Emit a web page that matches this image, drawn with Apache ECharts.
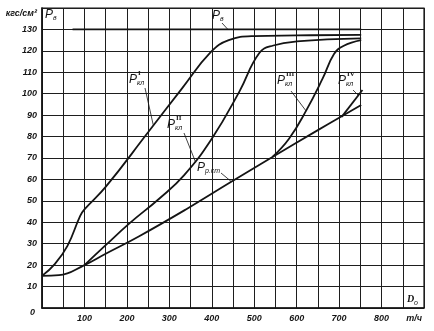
<!DOCTYPE html>
<html>
<head>
<meta charset="utf-8">
<script src="https://cdn.jsdelivr.net/npm/echarts@6/dist/echarts.min.js"></script>
<style>
  html, body { margin: 0; padding: 0; background: #fff; }
  #chart { width: 434px; height: 331px; }
</style>
</head>
<body>
<div id="chart"></div>
<script>
// Feed-water flow D0 (t/h) on x, pressure (kgf/cm2) on y
const pvX = [72, 752];
const pvY = [130, 130];

const kl1X = [0, 30, 60, 90, 100, 150, 250, 330, 398, 440, 500, 600, 752];
const kl1Y = [15, 20.5, 29, 43, 46, 56.5, 82, 102.5, 119.5, 125, 126.9, 127.2, 127.5];

const kl2X = [100, 150, 206, 276, 335, 400, 465, 512, 545, 600, 752];
const kl2Y = [20, 29.3, 39.5, 51, 62, 79, 101, 119, 122.5, 124.4, 125.8];

const kl3X = [543, 582, 622, 661, 688, 710, 752];
const kl3Y = [70.5, 79, 92, 107, 118.5, 122.3, 125];

const kl4X = [706, 755];
const kl4Y = [89.2, 101.7];

const rstX = [0, 40, 100, 150, 229, 339, 441, 543, 650, 752];
const rstY = [15, 15.3, 20, 25.3, 33.5, 46, 58.3, 70.5, 83, 94.7];

const xTickLabels = { 100: '100', 200: '200', 300: '300', 400: '400', 500: '500', 600: '600', 700: '700', 800: '800', 900: '{t|т/ч}' };

const ink = '#141414';
const numFont = { fontFamily: 'Liberation Sans', fontStyle: 'italic', fontWeight: 'bold', fontSize: 9, color: ink };

function zip(xs, ys) { return xs.map((x, i) => [x, ys[i]]); }

function curve(name, xs, ys, smooth) {
  return {
    name: name, type: 'line', data: zip(xs, ys),
    showSymbol: false, smooth: smooth,
    lineStyle: { color: ink, width: 1.8 }, silent: true, animation: false
  };
}

const chart = echarts.init(document.getElementById('chart'), null, { renderer: 'canvas' });

chart.setOption({
  backgroundColor: '#fff',
  animation: false,
  grid: { left: 42, right: 10, top: 8, bottom: 23, show: true, borderColor: ink, borderWidth: 1.2, backgroundColor: 'transparent' },
  xAxis: {
    type: 'value', min: 0, max: 900, interval: 50,
    axisLine: { show: true, onZero: false, lineStyle: { color: ink, width: 1.6 } },
    axisTick: { show: false },
    splitLine: { show: true, lineStyle: { color: '#1e1e1e', width: 1 } },
    axisLabel: Object.assign({ margin: 6, showMinLabel: true, showMaxLabel: true,
      formatter: v => xTickLabels[v] || '',
      rich: {
        t: { fontFamily: 'Liberation Sans', fontStyle: 'italic', fontWeight: 'bold', fontSize: 9, color: ink, padding: [0, 20, 0, 0] }
      } }, numFont)
  },
  yAxis: {
    type: 'value', min: 0, max: 140, interval: 10,
    axisLine: { show: true, onZero: false, lineStyle: { color: ink, width: 1.6 } },
    axisTick: { show: false },
    splitLine: { show: true, lineStyle: { color: '#1e1e1e', width: 1 } },
    axisLabel: Object.assign({ margin: 5, showMinLabel: true, showMaxLabel: true,
      formatter: v => v === 140 ? '{u|кгс/см²}' : (v === 0 ? '{z|0}' : String(v)),
      rich: {
        u: { fontFamily: 'Liberation Sans', fontStyle: 'italic', fontWeight: 'bold', fontSize: 9, color: ink, padding: [12, 0, 0, 0] },
        z: { fontFamily: 'Liberation Sans', fontStyle: 'italic', fontWeight: 'bold', fontSize: 9, color: ink, padding: [10, 2, 0, 0] }
      } }, numFont)
  },
  series: [
    curve('pв', pvX, pvY, false),
    curve('pкл I', kl1X, kl1Y, 0.45),
    curve('pкл II', kl2X, kl2Y, 0.45),
    curve('pкл III', kl3X, kl3Y, 0.45),
    curve('pкл IV', kl4X, kl4Y, false),
    curve('pр.ст', rstX, rstY, 0.45)
  ]
});

// Curve annotations: letter with superscript / subscript, plus a thin leader to the curve
const px = (x, y) => chart.convertToPixel({ gridIndex: 0 }, [x, y]);

function tag(x, y, sup, sub) {
  const els = [{ type: 'text', x: x, y: y, style: { text: 'P', font: 'italic 12px "Liberation Sans"', fill: ink } }];
  if (sup) els.push({ type: 'text', x: x + 9, y: y - 4, style: { text: sup, font: 'bold 7px "Liberation Serif"', fill: ink } });
  if (sub) els.push({ type: 'text', x: x + 8, y: y + 6, style: { text: sub, font: 'italic 7px "Liberation Sans"', fill: ink } });
  return els;
}

function leader(x1, y1, dataPt) {
  const p = px(dataPt[0], dataPt[1]);
  return { type: 'line', shape: { x1: x1, y1: y1, x2: p[0], y2: p[1] }, style: { stroke: ink, lineWidth: 0.8 } };
}

const g = [].concat(
  tag(45, 9, null, 'в'),
  tag(212, 10, null, 'в'),
  [leader(222, 23, [438, 130])],
  tag(129, 74, 'I', 'кл'),
  [leader(145, 88, [262, 85.5])],
  tag(167, 119, 'II', 'кл'),
  [leader(184, 133, [362, 68])],
  tag(197, 162, null, 'р.ст'),
  [leader(221, 173, [446, 59])],
  tag(277, 75, 'III', 'кл'),
  [leader(291, 91, [622, 92])],
  tag(338, 75, 'IV', 'кл'),
  [leader(353, 90, [745, 99.3])],
  [
    { type: 'text', x: 407, y: 294, style: { text: 'D', font: 'italic bold 10px "Liberation Serif"', fill: ink } },
    { type: 'text', x: 414, y: 300, style: { text: 'о', font: 'italic 7px "Liberation Sans"', fill: ink } }
  ]
);

chart.setOption({ graphic: g.map(e => Object.assign({ silent: true, z: 100 }, e)) });
</script>
</body>
</html>
